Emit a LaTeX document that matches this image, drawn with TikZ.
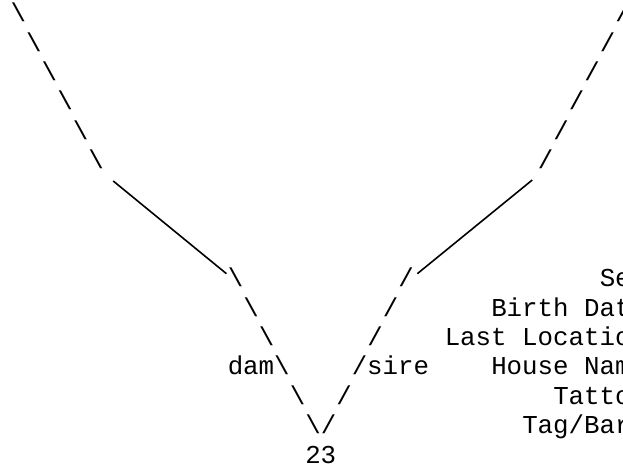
\documentclass[tikz,border=0pt]{standalone}
\usepackage{fontspec}
\setmonofont{Liberation Mono}
\begin{document}
\begin{tikzpicture}[x=15.5pt, y=-29.43pt, every node/.style={font=\ttfamily\fontsize{25.8}{29}\selectfont, inner sep=0pt, outer sep=0pt, anchor=base west}]
    \useasboundingbox (-1.1935,-0.5097) rectangle (39,15.3925);

    % Grosseltern (oben)
    \foreach \r in {0,...,5} {
        \node (dl\r) at (\r-0.5, \r+0.228) {\textbackslash};
        \node (dr\r) at (38.5-\r, \r+0.228) {/};
    }

    % Eltern
    \foreach \r in {9,10,11,13,14} {
        \node (dl\r) at (\r+4.5, \r+0.228) {\textbackslash};
        \node (dr\r) at (33.5-\r, \r+0.228) {/};
    }
    \node (dam) at (13.5,12.228) {dam\textbackslash};
    \node (sire) at (21.5,12.228) {/sire};
    \node (id) at (18.5,15.228) {23};

    % Angaben
    \node (sex) at (37.5,9.228) {Se};
    \node (birth) at (30.5,10.228) {Birth Dat};
    \node (loc) at (27.5,11.228) {Last Locatio};
    \node (house) at (30.5,12.228) {House Nam};
    \node (tattoo) at (34.5,13.228) {Tatto};
    \node (tag) at (32.5,14.228) {Tag/Bar};

    % Verbindungen
    \draw[line width=1.6pt] ([shift={(9.5pt,-11.9pt)}]dl5.south east) -- ([shift={(-1.3pt,-5.8pt)}]dl9.north west);
    \draw[line width=1.6pt] ([shift={(-5.5pt,-10.9pt)}]dr5.south west) -- ([shift={(3.6pt,-5.8pt)}]dr9.north east);
\end{tikzpicture}
\end{document}
